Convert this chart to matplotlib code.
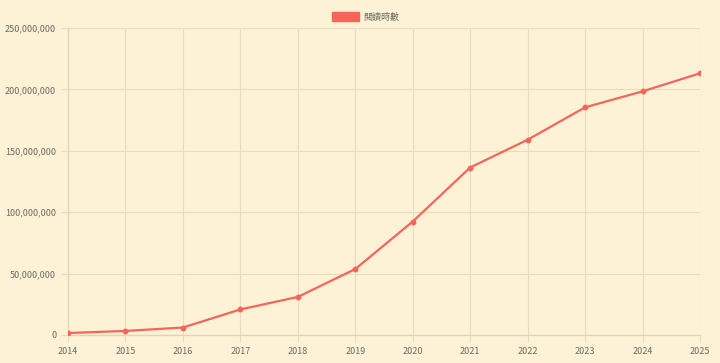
import matplotlib.pyplot as plt
from matplotlib.ticker import FuncFormatter, MultipleLocator

plt.rcParams['font.family'] = ['Noto Sans CJK TC', 'DejaVu Sans']

years = [2014, 2015, 2016, 2017, 2018, 2019, 2020, 2021, 2022, 2023, 2024, 2025]
hours = [1.6e6, 3.3e6, 6.1e6, 20.8e6, 31.0e6, 53.7e6, 92.4e6, 136.4e6,
         159.0e6, 185.4e6, 198.4e6, 213.1e6]
label = "閱讀時數"

bg = "#fdf2d6"
line_color = "#f4665a"
grid_color = "#e8dcc0"
text_color = "#6e6a62"

fig = plt.figure(figsize=(7.2, 3.63), dpi=100, facecolor=bg)
ax = fig.add_axes([68 / 720, 1 - 335 / 363, 632 / 720, 307 / 363])
ax.set_facecolor(bg)

ax.plot(years, hours, color=line_color, linewidth=1.6, marker="o",
        markersize=3.2, label=label, zorder=3)

ax.set_xlim(2014, 2025)
ax.set_ylim(0, 250e6)
ax.set_xticks(years)
ax.yaxis.set_major_locator(MultipleLocator(50e6))
ax.yaxis.set_major_formatter(FuncFormatter(lambda v, p: f"{int(v):,}"))

ax.grid(True, color=grid_color, linewidth=0.8)
ax.set_axisbelow(True)
for side in ["top", "right"]:
    ax.spines[side].set_visible(False)
for side in ["left", "bottom"]:
    ax.spines[side].set_color("#e0d4b8")
    ax.spines[side].set_linewidth(0.9)
ax.tick_params(colors=grid_color, labelcolor=text_color, labelsize=6.5,
               length=5, width=0.8)

handle = plt.Rectangle((0, 0), 1, 1, facecolor=line_color, edgecolor=line_color)
fig.legend([handle], [label], loc="center", bbox_to_anchor=(0.508, 1 - 17 / 363),
           frameon=False, fontsize=6.5, labelcolor=text_color,
           handlelength=3.0, handleheight=1.0, handletextpad=0.4)

fig.savefig("out.png", dpi=100, facecolor=bg)
